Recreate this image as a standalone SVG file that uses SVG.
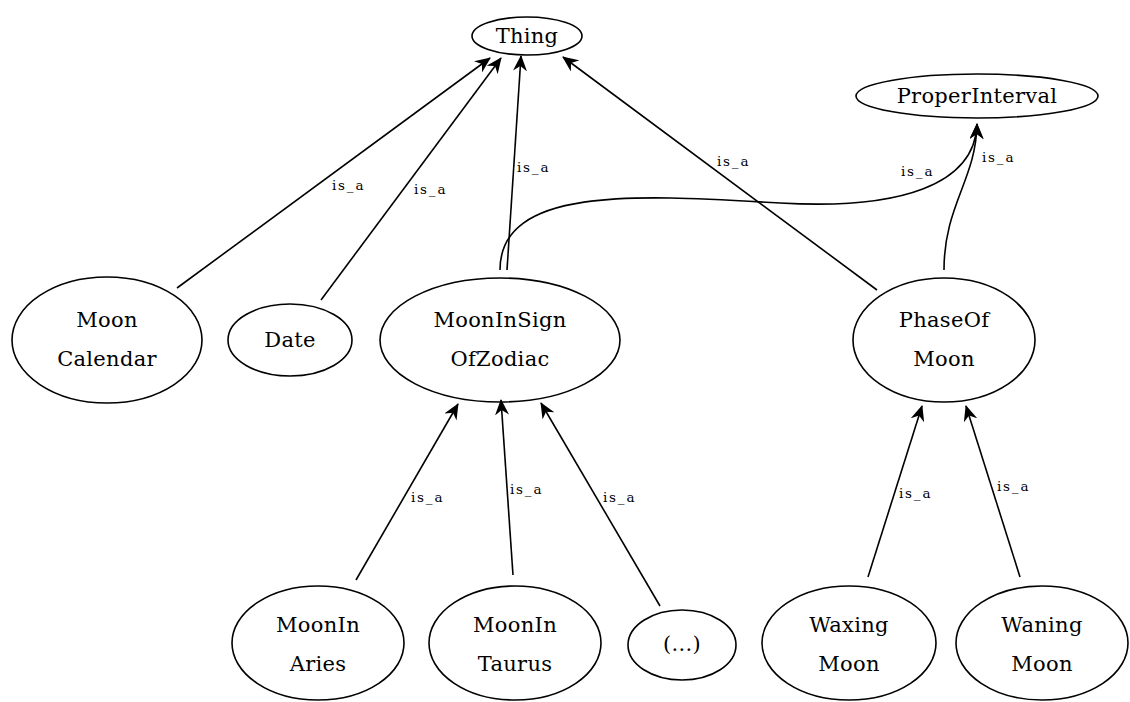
<svg xmlns="http://www.w3.org/2000/svg" width="1130" height="702" viewBox="0 0 1130 702">
<style>
.n{fill:none;stroke:#000;stroke-width:1.6}
.t{font-family:"DejaVu Serif","Liberation Serif",serif;font-size:21px;text-anchor:middle;fill:#000;letter-spacing:0.3px}
.e{fill:none;stroke:#000;stroke-width:1.6;marker-end:url(#ah)}
.l{font-family:"DejaVu Serif","Liberation Serif",serif;font-size:13.5px;fill:#000;letter-spacing:1.8px}
</style>
<defs>
<marker id="ah" markerUnits="userSpaceOnUse" markerWidth="16" markerHeight="14" refX="15" refY="7" orient="auto">
<path d="M0,0 L16,7 L0,14 L5,7 Z" fill="#000"/>
</marker>
</defs>
<rect width="1130" height="702" fill="#fff"/>
<g id="connectors">
<path class="e" d="M177,288 L490,58"/>
<path class="e" d="M321,300 L501,58"/>
<path class="e" d="M507,270 L521,56"/>
<path class="e" d="M877,290 L563,57"/>
<path class="e" d="M500,270 C500,185 640,195 780,203 C900,210 975,185 977,124"/>
<path class="e" d="M944,270 C944,205 976,180 977,124"/>
<path class="e" d="M356,580 L458,404"/>
<path class="e" d="M513,575 L501,400"/>
<path class="e" d="M660,606 L541,403"/>
<path class="e" d="M868,577 L922,406"/>
<path class="e" d="M1020,577 L966,406"/>
<text class="l" x="332" y="190">is_a</text>
<text class="l" x="414" y="194">is_a</text>
<text class="l" x="517" y="172">is_a</text>
<text class="l" x="717" y="166">is_a</text>
<text class="l" x="901" y="176">is_a</text>
<text class="l" x="982" y="162">is_a</text>
<text class="l" x="411" y="502">is_a</text>
<text class="l" x="510" y="494">is_a</text>
<text class="l" x="603" y="502">is_a</text>
<text class="l" x="899" y="498">is_a</text>
<text class="l" x="997" y="491">is_a</text>
</g>
<g id="thing"><ellipse class="n" cx="527" cy="36" rx="55" ry="19"/><text class="t" x="527" y="43">Thing</text></g>
<g id="properinterval"><ellipse class="n" cx="977" cy="96" rx="121" ry="22"/><text class="t" x="977" y="103">ProperInterval</text></g>
<g id="mooncalendar"><ellipse class="n" cx="107" cy="340" rx="95" ry="63"/><text class="t" x="107" y="327">Moon</text><text class="t" x="107" y="366">Calendar</text></g>
<g id="date"><ellipse class="n" cx="290" cy="340" rx="62" ry="36"/><text class="t" x="290" y="347">Date</text></g>
<g id="mooninsignofzodiac"><ellipse class="n" cx="500" cy="340" rx="120" ry="62"/><text class="t" x="500" y="327">MoonInSign</text><text class="t" x="500" y="366">OfZodiac</text></g>
<g id="phaseofmoon"><ellipse class="n" cx="944" cy="340" rx="91" ry="62"/><text class="t" x="944" y="327">PhaseOf</text><text class="t" x="944" y="366">Moon</text></g>
<g id="mooninaries"><ellipse class="n" cx="318" cy="643" rx="86" ry="57"/><text class="t" x="318" y="632">MoonIn</text><text class="t" x="318" y="671">Aries</text></g>
<g id="moonintaurus"><ellipse class="n" cx="515" cy="643" rx="86" ry="57"/><text class="t" x="515" y="632">MoonIn</text><text class="t" x="515" y="671">Taurus</text></g>
<g id="etc"><ellipse class="n" cx="682" cy="645" rx="54" ry="35"/><text class="t" x="682" y="651">(...)</text></g>
<g id="waxingmoon"><ellipse class="n" cx="849" cy="643" rx="87" ry="57"/><text class="t" x="849" y="632">Waxing</text><text class="t" x="849" y="671">Moon</text></g>
<g id="waningmoon"><ellipse class="n" cx="1042" cy="643" rx="86" ry="57"/><text class="t" x="1042" y="632">Waning</text><text class="t" x="1042" y="671">Moon</text></g>
</svg>
